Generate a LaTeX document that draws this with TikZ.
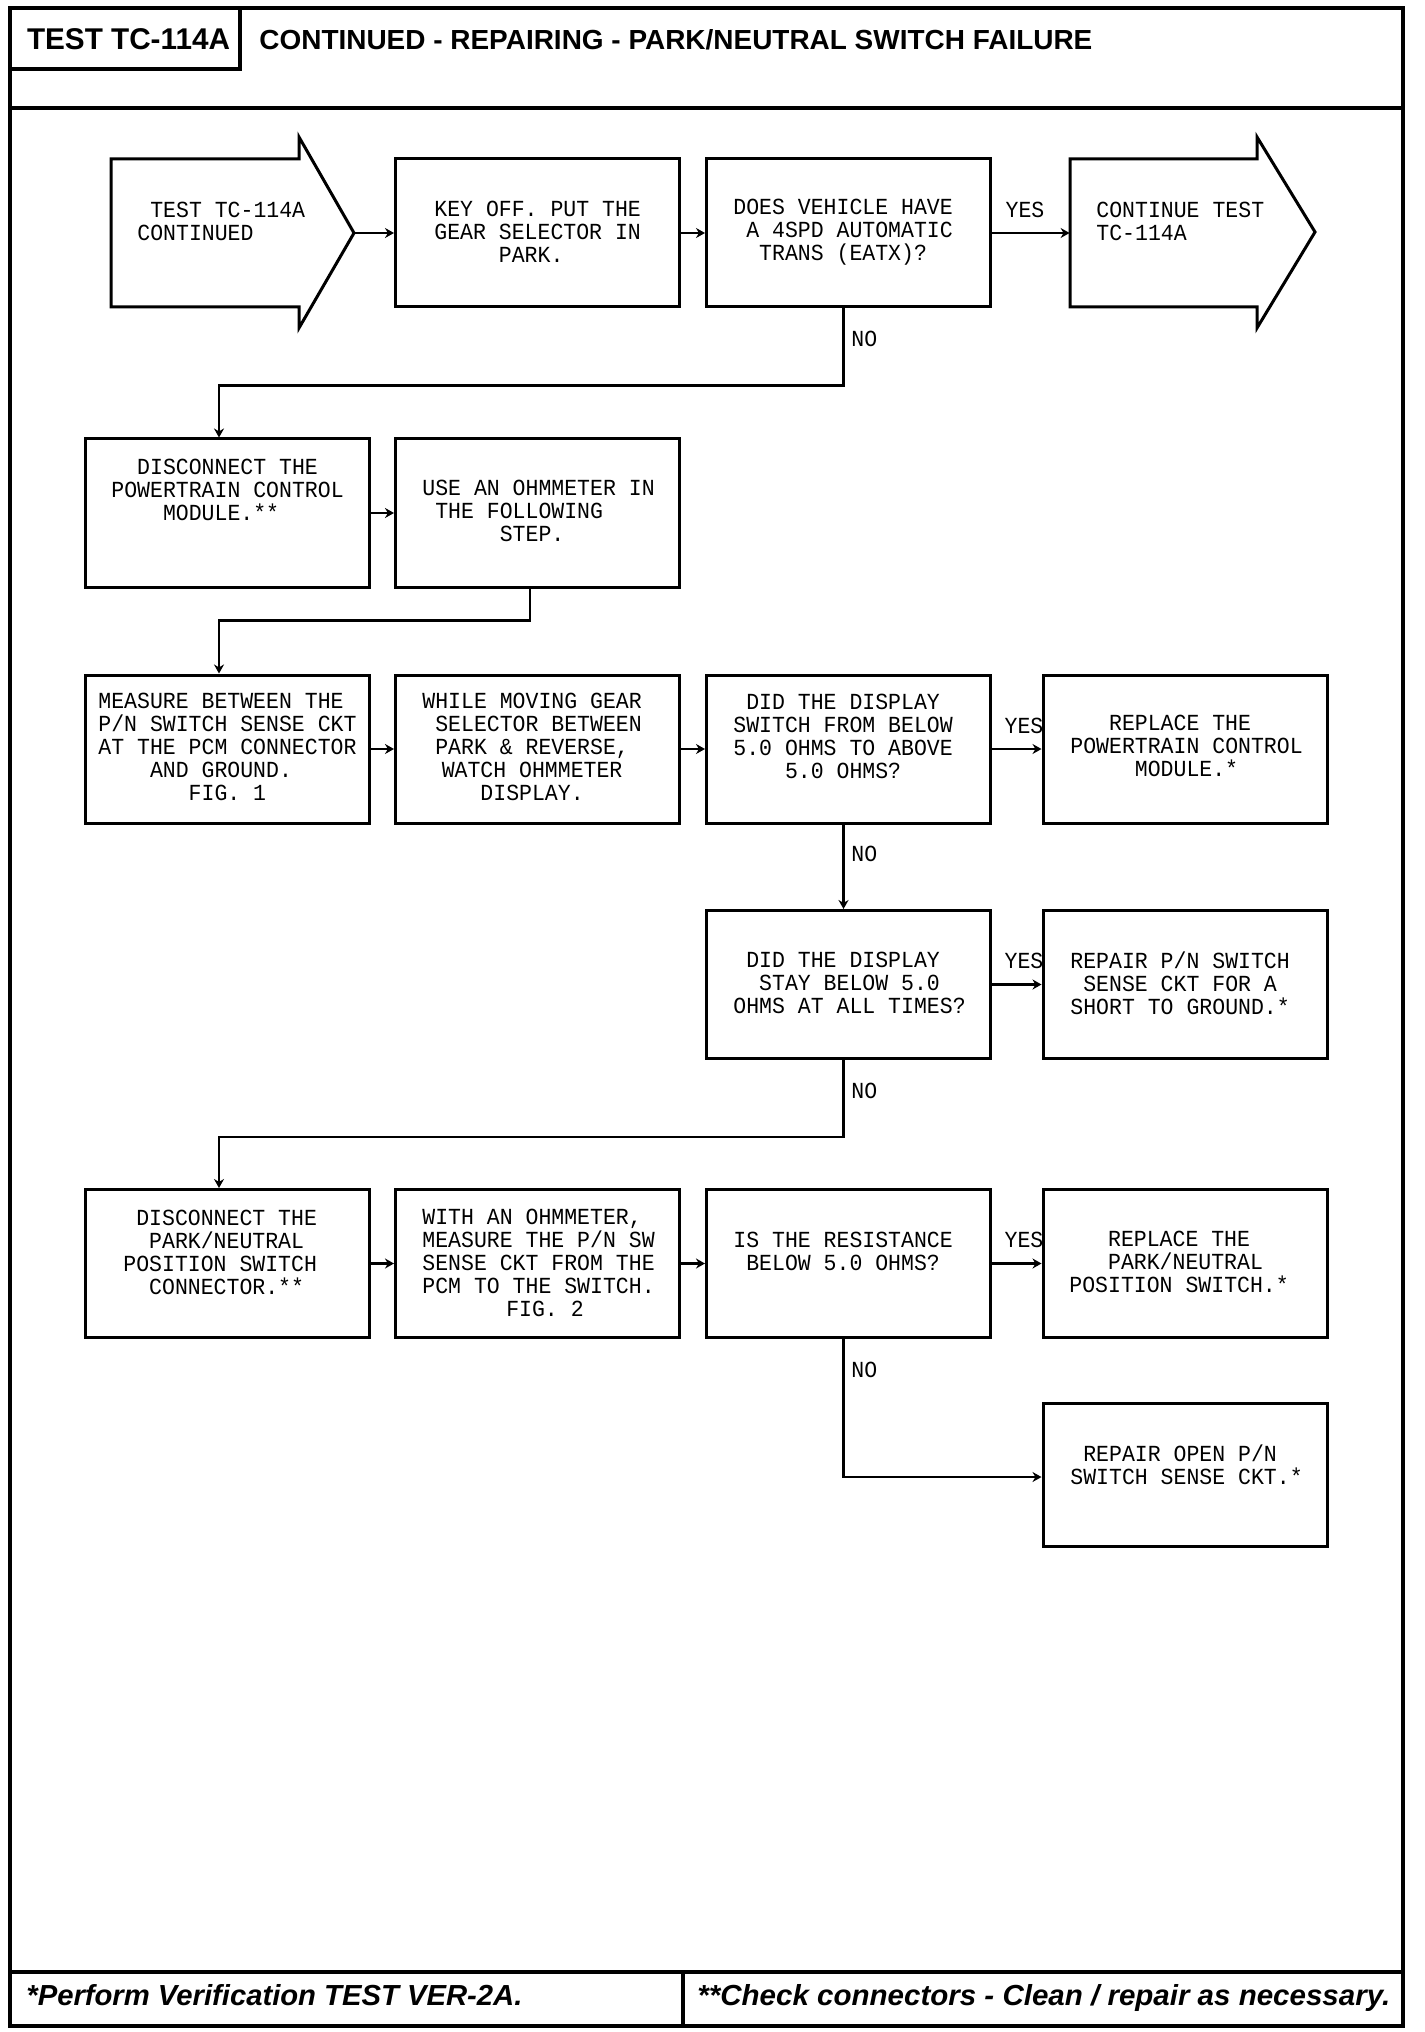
\documentclass[tikz,border=0pt]{standalone}
\usepackage{fontspec}
\usepackage{graphicx}
\usetikzlibrary{arrows.meta,calc}
\newfontfamily\boxfont{Liberation Mono}[FakeStretch=0.935]
\newfontfamily\hdfont{Liberation Sans}
\newcommand\boxtext{\boxfont\fontsize{11.5pt}{11.5pt}\selectfont}
\newlength\cw
\setlength\cw{6.45pt}
\newcommand\indn[1]{\hspace*{#1\cw}}
\newlength\fitlen
\newcommand\fitw[2]{\settowidth{\fitlen}{#2}\pgfmathsetmacro\fitr{#1/\fitlen}\scalebox{\fitr}[1]{#2}}
\tikzset{
  box/.style={draw, line width=1.5pt, minimum width=142pt, minimum height=74pt, inner sep=0pt},
  area/.style={inner sep=0pt},
  txt/.style={font=\boxtext, align=left, inner sep=0pt, anchor=west},
  lbl/.style={font=\boxtext, inner sep=0pt},
  conn/.style={line width=1.4pt, -{Stealth[length=4.5pt,width=5pt]}},
  frame/.style={line width=1.8pt},
  bigarrow/.style={line width=1.5pt, line join=miter}
}
\begin{document}
\begin{tikzpicture}[x=0.5pt,y=-0.5pt]
\useasboundingbox (0,0) rectangle (1424,2032);
\fill[white] (0,0) rectangle (1424,2032);
% frame
\draw[frame] (10,8) rectangle (1403,2026);
\draw[frame] (10,8) rectangle (240,69);
\draw[frame] (10,108) -- (1403,108);
\draw[frame] (10,1972) -- (1403,1972);
\draw[frame] (683,1972) -- (683,2026);
\node[inner sep=0pt, font=\hdfont\bfseries\fontsize{15pt}{15pt}\selectfont] (title) at (128.5,39) {\fitw{101.5pt}{TEST TC-114A}};
\node[inner sep=0pt, anchor=west, font=\hdfont\bfseries\fontsize{13.8pt}{14pt}\selectfont] (subtitle) at (259,40) {\fitw{416.5pt}{CONTINUED - REPAIRING - PARK/NEUTRAL SWITCH FAILURE}};
\node[inner sep=0pt, anchor=base west, font=\hdfont\bfseries\itshape\fontsize{14.5pt}{15pt}\selectfont] (foot1) at (26,2005) {\fitw{248pt}{*Perform Verification TEST VER-2A.}};
\node[inner sep=0pt, anchor=base west, font=\hdfont\bfseries\itshape\fontsize{14.5pt}{15pt}\selectfont] (foot2) at (697,2005) {\fitw{346.5pt}{**Check connectors - Clean / repair as necessary.}};

% big arrows
\draw[bigarrow] (111,159) -- (299,159) -- (299,137) -- (354,233) -- (299,328) -- (299,307) -- (111,307) -- cycle;
\node[area, minimum width=94pt, minimum height=74pt] (a1) at (205,233) {};
\coordinate (a1tip) at (354,233);
\draw[bigarrow] (1070,159) -- (1257,159) -- (1257,137) -- (1315,232) -- (1257,328) -- (1257,307) -- (1070,307) -- cycle;
\node[area, minimum width=93.5pt, minimum height=74pt] (a2) at (1163.5,233) {};

% boxes
\node[box] (key) at (537.5,233) {};
\node[box] (does) at (848.5,233) {};
\node[box] (dis1) at (227,513) {};
\node[box] (use) at (537.5,513) {};
\node[box] (meas) at (227,749) {};
\node[box] (while) at (537.5,749) {};
\node[box] (did1) at (848.5,749) {};
\node[box] (repl1) at (1185,749) {};
\node[box] (did2) at (848.5,984.5) {};
\node[box] (rep1) at (1185,984.5) {};
\node[box] (dis2) at (227,1263.5) {};
\node[box] (with) at (537.5,1263.5) {};
\node[box] (is) at (848.5,1263.5) {};
\node[box] (repl2) at (1185,1263.5) {};
\node[box, minimum height=71.5pt] (rep2) at (1185,1474.5) {};

% texts
\node[txt] (t-a1) at (137,221) {\indn{1}TEST TC-114A\\CONTINUED};
\node[txt] (t-key) at (434,232) {KEY OFF. PUT THE\\GEAR SELECTOR IN\\\indn{5}PARK.};
\node[txt] (t-does) at (733,232) {DOES VEHICLE HAVE\\\indn{1}A 4SPD AUTOMATIC\\\indn{2}TRANS (EATX)?};
\node[txt] (t-a2) at (1096,221) {CONTINUE TEST\\TC-114A};
\node[txt] (t-dis1) at (111,490) {\indn{2}DISCONNECT THE\\POWERTRAIN CONTROL\\\indn{4}MODULE.**};
\node[txt] (t-use) at (422,511) {USE AN OHMMETER IN\\\indn{1}THE FOLLOWING\\\indn{6}STEP.};
\node[txt] (t-meas) at (98,747) {MEASURE BETWEEN THE\\P/N SWITCH SENSE CKT\\AT THE PCM CONNECTOR\\\indn{4}AND GROUND.\\\indn{7}FIG. 1};
\node[txt] (t-while) at (422,747) {WHILE MOVING GEAR\\\indn{1}SELECTOR BETWEEN\\\indn{1}PARK \& REVERSE,\\\indn{1.5}WATCH OHMMETER\\\indn{4.5}DISPLAY.};
\node[txt] (t-did1) at (733,736) {\indn{1}DID THE DISPLAY\\SWITCH FROM BELOW\\5.0 OHMS TO ABOVE\\\indn{4}5.0 OHMS?};
\node[txt] (t-repl1) at (1070,746) {\indn{3}REPLACE THE\\POWERTRAIN CONTROL\\\indn{5}MODULE.*};
\node[txt] (t-did2) at (733,983) {\indn{1}DID THE DISPLAY\\\indn{2}STAY BELOW 5.0\\OHMS AT ALL TIMES?};
\node[txt] (t-rep1) at (1070,983) {REPAIR P/N SWITCH\\\indn{1}SENSE CKT FOR A\\SHORT TO GROUND.*};
\node[txt] (t-dis2) at (123,1252) {\indn{1}DISCONNECT THE\\\indn{2}PARK/NEUTRAL\\POSITION SWITCH\\\indn{2}CONNECTOR.**};
\node[txt] (t-with) at (422,1263) {WITH AN OHMMETER,\\MEASURE THE P/N SW\\SENSE CKT FROM THE\\PCM TO THE SWITCH.\\\indn{6.5}FIG. 2};
\node[txt] (t-is) at (733,1251) {IS THE RESISTANCE\\\indn{1}BELOW 5.0 OHMS?};
\node[txt] (t-repl2) at (1069,1262) {\indn{3}REPLACE THE\\\indn{3}PARK/NEUTRAL\\POSITION SWITCH.*};
\node[txt] (t-rep2) at (1070,1465) {\indn{1}REPAIR OPEN P/N\\SWITCH SENSE CKT.*};

% labels
\node[lbl] (yes1) at (1025,210) {YES};
\node[lbl] (yes2) at (1024,726) {YES};
\node[lbl] (yes3) at (1024,961) {YES};
\node[lbl] (yes4) at (1024,1240) {YES};
\node[lbl, anchor=west] (no1) at (851,339) {NO};
\node[lbl, anchor=west] (no2) at (851,854) {NO};
\node[lbl, anchor=west] (no3) at (851,1091) {NO};
\node[lbl, anchor=west] (no4) at (851,1370) {NO};

% connectors
\draw[conn] (a1tip) -- (key.west);
\draw[conn] (key.east) -- (does.west);
\draw[conn] (does.east) -- (a2.west);
\draw[conn] ($(does.south)+(-5,0)$) -- ++(0,77) -| ($(dis1.north)+(-8,0)$);
\draw[conn] (dis1.east) -- (use.west);
\draw[conn] ($(use.south)+(-7.5,0)$) -- ++(0,32) -| ($(meas.north)+(-8,0)$);
\draw[conn] (meas.east) -- (while.west);
\draw[conn] (while.east) -- (did1.west);
\draw[conn] (did1.east) -- (repl1.west);
\draw[conn] ($(did1.south)+(-5,0)$) -- ($(did2.north)+(-5,0)$);
\draw[conn] (did2.east) -- (rep1.west);
\draw[conn] ($(did2.south)+(-5,0)$) -- ++(0,77) -| ($(dis2.north)+(-8,0)$);
\draw[conn] (dis2.east) -- (with.west);
\draw[conn] (with.east) -- (is.west);
\draw[conn] (is.east) -- (repl2.west);
\draw[conn] ($(is.south)+(-5,0)$) |- ($(rep2.west)+(0,2.5)$);
\end{tikzpicture}
\end{document}
